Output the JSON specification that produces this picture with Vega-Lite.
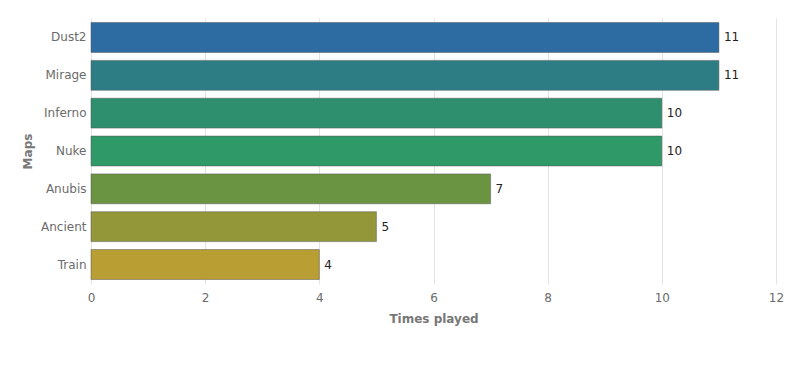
{
  "$schema": "https://vega.github.io/schema/vega-lite/v6.json",
  "width": 685,
  "height": 266,
  "autosize": {"type": "none"},
  "padding": {"left": 91, "top": 18, "right": 21, "bottom": 90},
  "config": {
    "view": {"stroke": null},
    "font": "DejaVu Sans",
    "axis": {"labelFont": "DejaVu Sans", "titleFont": "DejaVu Sans", "labelColor": "#6b6b6b", "titleColor": "#777777", "labelFontSize": 12, "titleFontSize": 12, "titleFontWeight": "bold", "gridColor": "#e4e4e4", "domain": false, "ticks": false}
  },
  "data": {"values": [
    {"map": "Dust2", "count": 11, "color": "#2d6ca3"},
    {"map": "Mirage", "count": 11, "color": "#2d7e84"},
    {"map": "Inferno", "count": 10, "color": "#2e8f6f"},
    {"map": "Nuke", "count": 10, "color": "#2f9a68"},
    {"map": "Anubis", "count": 7, "color": "#6a9441"},
    {"map": "Ancient", "count": 5, "color": "#939739"},
    {"map": "Train", "count": 4, "color": "#b99e33"}
  ]},
  "encoding": {
    "y": {"field": "map", "type": "nominal", "sort": null, "title": "Maps",
      "scale": {"paddingInner": 0.21, "paddingOuter": 0.12},
      "axis": {"labelPadding": 5, "titlePadding": 6, "grid": false}},
    "x": {"field": "count", "type": "quantitative", "title": "Times played",
      "scale": {"domain": [0, 12]},
      "axis": {"tickCount": 6, "labelPadding": 8, "titlePadding": 10, "grid": true, "labelFlush": false}}
  },
  "layer": [
    {"mark": {"type": "bar", "stroke": "#555555", "strokeOpacity": 0.5, "strokeWidth": 1},
     "encoding": {"color": {"field": "color", "type": "nominal", "scale": null, "legend": null}}},
    {"mark": {"type": "text", "align": "left", "dx": 5, "fontSize": 12, "color": "#222222", "font": "DejaVu Sans"},
     "encoding": {"text": {"field": "count", "type": "quantitative"}}}
  ]
}
